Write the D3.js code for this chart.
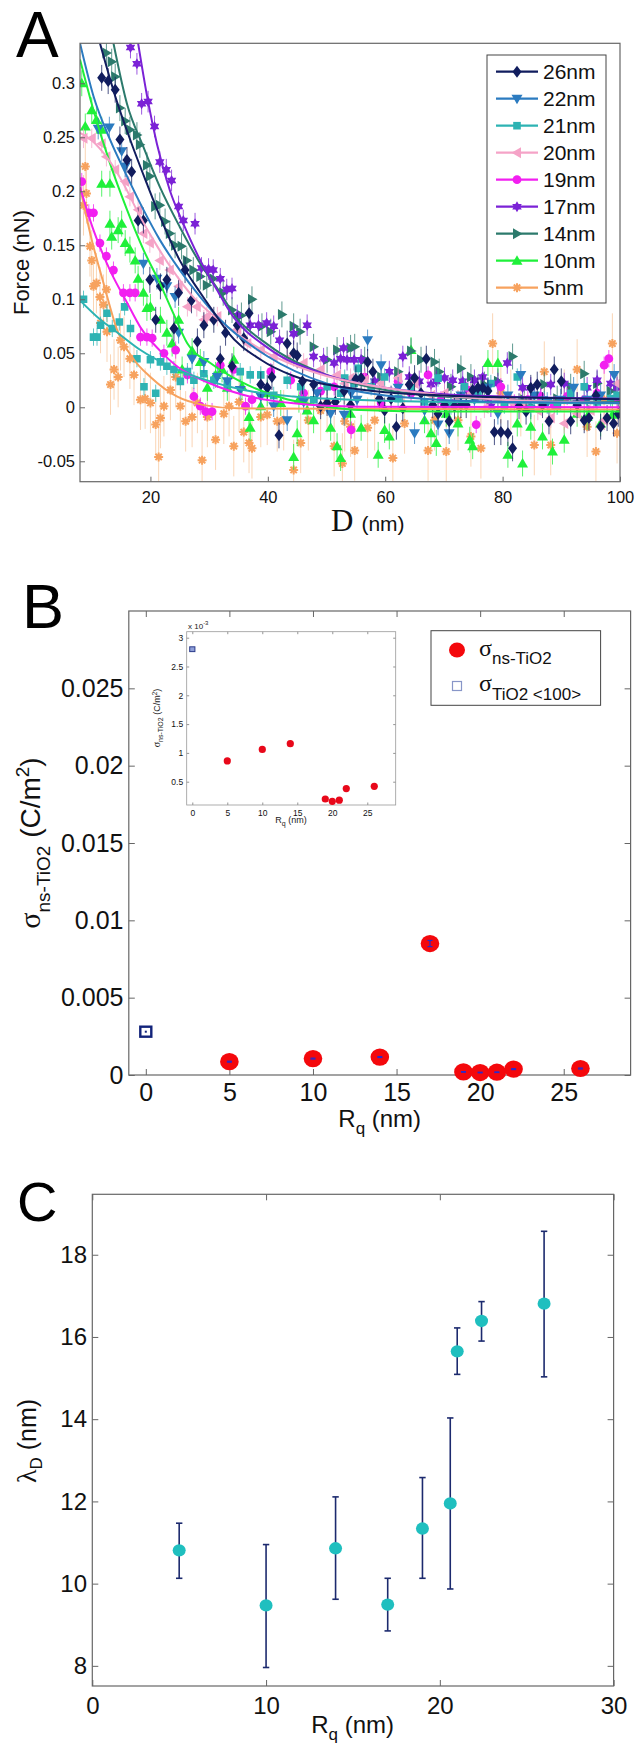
<!DOCTYPE html>
<html><head><meta charset="utf-8">
<script src="https://cdn.jsdelivr.net/npm/d3@7"></script>
<style>body{margin:0;background:#fff}svg{display:block}</style>
</head><body>
<script>
// ---------------- DATA: panel A ----------------
const seriesNames = ["26nm","22nm","21nm","20nm","19nm","17nm","14nm","10nm","5nm"];
const seriesColors = ["#111d5e","#2b7bc0","#2db3b3","#f5a3c7","#f21ff0","#7b22d6","#2c7a6c","#1ff03a","#f7a25e"];
const seriesShapes = ["diamond","triDown","square","triLeft","circle","hexagram","triRight","triUp","asterisk"];
const seriesErr = [0.012,0.01,0.008,0.009,0.008,0.01,0.012,0.012,0.028];

const pts26 = [[11.7,.305],[12.8,.302],[14,.294],[14.8,.248],[16,.229],[16.8,.218],[17.9,.173],[18.8,.173],[19.9,.118],[20.9,.081],[21.7,.112],[22.8,.118],[24,.073],[24.8,.106],[25.9,.127],[27,.099],[28,.061],[29.1,.076],[30.8,.081],[31.9,.045],[32.8,.069],[33.9,.038],[34.8,.076],[35.9,.064],[36.8,.087],[38.8,.021],[39.9,.018],[40.7,.028],[41.9,-.026],[43.3,.059],[44.4,.05],[45,.048],[45.9,.024],[47.8,.021],[49,.001],[50.1,.004],[51.5,.005],[53,.015],[54.1,.002],[55,.026],[55.9,.027],[57,.042],[57.9,.033],[59,.008],[59.9,-.003],[61,.008],[61.9,-.018],[63,-.001],[64.1,.021],[65,.027],[66.1,.013],[67,.045],[68.1,.002],[69,-.006],[70.1,.002],[70.9,-.013],[71.8,.001],[72.9,.002],[73.8,.002],[74.9,.016],[75.8,.018],[76.6,.018],[77.5,.015],[78.6,-.023],[79.7,-.023],[80.9,-.024],[81.7,-.038],[82.8,.001],[84,-.004],[84.8,.018],[85.9,.021],[86.8,.002],[87.9,-.013],[88.8,.035],[90,.024],[91.6,-.013],[92.7,.002],[93.9,-.012],[94.7,-.01],[95.9,.011],[96.7,-.018],[97.8,-.01],[98.9,-.015],[99.7,-.006]];
const pts22 = [[11.1,.258],[13,.259],[15.1,.237],[15.7,.223],[18.8,.133],[21.1,.119],[22.8,.112],[24.2,.102],[24.8,.069],[27.1,.045],[29.1,.042],[31.4,.028],[33.1,.024],[35.3,.016],[38.8,.01],[41,.001],[43.3,-.012],[46.1,.005],[48.4,.013],[50.7,-.006],[53,-.007],[54.2,.013],[55.2,.007],[57,.062],[59.3,.039],[62.2,.018],[65,-.024],[66.7,-.003],[69,-.016],[70.9,-.024],[72.9,.011],[75.2,.007],[77.5,.018],[79.2,-.006],[80.9,.011],[83.1,.03],[85.4,.011],[87.6,.004],[89.9,.007],[92.1,.018],[94.4,.007],[96.7,.011],[99,.03]];
const pts21 = [[8.6,.1],[10.3,.065],[10.9,.065],[11.5,.076],[12.6,.087],[13.5,.073],[14.7,.079],[15.6,.093],[16.6,.073],[17.7,.045],[18.9,.019],[20,.044],[20.9,.013],[21.7,.042],[22.8,.038],[24,.035],[25.1,.024],[26.3,.033],[27.4,.025],[29.1,.031],[30.8,.025],[33.1,.021],[35.3,.033],[37,.03],[38.8,.03],[41,.011],[43.3,.025],[45.6,.019],[47.8,.007],[50.1,.019],[52.4,.013],[53.1,.027],[54.7,.022],[55.4,.036],[57.6,.019],[59.9,.028],[62.2,.008],[64.4,.018],[66.7,.005],[69,.027],[71.2,.001],[73.5,.019],[75.8,.013],[78,.022],[80.3,.002],[82.5,.028],[84.8,-.001],[87.1,.007],[89.3,.001],[91.6,.013],[93.9,.019],[96.1,.005],[98.4,.008],[99.5,.011]];
const pts20 = [[8.6,.249],[10,.249],[11.7,.244],[12.5,.232],[14,.22],[15.7,.209],[16.5,.195],[17.9,.183],[18.8,.161],[19.9,.152],[21.6,.136],[23.3,.127],[24.8,.112],[26.3,.093],[27.9,.093],[29.1,.081],[29.6,.084],[31.4,.084],[34.8,.072],[36.5,.059],[38.8,.053],[41,.047],[43.3,.045],[46.1,.041],[49,.035],[51.8,.03],[53.1,.022],[54.1,.027],[56.5,.025],[59.3,.022],[62.2,.027],[65,.022],[67.8,.011],[70.1,.013],[72.4,.007],[74.6,.013],[76.9,-.001],[79.2,.007],[81.4,.005],[83.7,.004],[86,-.003],[88.2,-.01],[90.5,-.015],[92.7,-.006],[95,-.003],[97.3,-.012],[99.5,.022]];
const pts19 = [[8.3,.209],[9.5,.18],[10.3,.18],[11.4,.152],[12.5,.14],[13.7,.127],[15.4,.106],[16.5,.106],[17.4,.106],[18.3,.065],[19.4,.065],[20.3,.064],[22.3,.05],[24.3,.053],[26.3,.03],[27.4,.01],[28.5,.001],[29.4,-.004],[30.5,-.004],[31.9,.039],[34.2,.035],[36.2,.001],[37.3,.007],[40.5,.033],[43.9,.025],[46.1,.013],[49,.015],[51.3,.019],[54.2,-.021],[56.5,.028],[59.3,.004],[62.2,.024],[64.4,.013],[67.3,.03],[69.5,.007],[71.8,.004],[74.1,.016],[75.5,-.016],[77.5,.007],[79.7,.019],[82,.004],[84.3,.007],[86.5,.01],[88.8,.002],[91,.01],[93.9,.007],[96.1,.013],[97.3,.039],[98.1,.045],[99.5,.007]];
const pts17 = [[16.6,.333],[17.7,.318],[18.5,.281],[19.6,.283],[20.7,.26],[21.6,.227],[22.7,.22],[23.6,.21],[24.8,.186],[25.6,.173],[27.6,.17],[28.7,.129],[29.9,.128],[30.7,.127],[31.9,.119],[33,.109],[33.9,.11],[34.8,.085],[37,.076],[38.4,.076],[39.8,.078],[41,.075],[42,.062],[44.4,.068],[46.7,.076],[47.8,.047],[49.5,.045],[51.3,.041],[52.4,.045],[52.9,.055],[53.5,.044],[54.7,.044],[55.9,.044],[58.2,.024],[60.7,.033],[63,.047],[64.1,.028],[65.8,.024],[67.8,.021],[68.7,.024],[70.1,.027],[71.5,.025],[73.2,.024],[75.2,.025],[76.6,.028],[78,.001],[79.2,.022],[80.8,.041],[83.4,.018],[84.8,.018],[86.5,.007],[88.2,.021],[90.5,.022],[92.7,.004],[94.4,.018],[96.1,.025],[98.4,.022],[99.5,.018]];
const pts14 = [[12.5,.328],[13.4,.32],[14,.306],[14.8,.277],[15.7,.265],[16.5,.257],[17.7,.252],[18.2,.243],[19.4,.224],[19.9,.214],[20.8,.186],[21.6,.187],[22.5,.172],[23.3,.161],[24.2,.15],[25.3,.149],[26.2,.136],[27.3,.127],[28.5,.121],[29.6,.113],[30.7,.119],[32.4,.106],[33.9,.09],[35.5,.085],[37.3,.1],[39,.075],[40.5,.07],[42.4,.086],[44.4,.075],[45.5,.07],[47.8,.056],[50.1,.044],[51.8,.053],[54.1,.055],[54.8,.056],[56.5,.044],[59.3,.028],[62.2,.033],[64.4,.052],[66.1,.044],[68.4,.042],[69.2,.033],[71.2,.019],[72.9,.036],[74.6,.028],[76.9,.021],[79.2,.024],[81.7,.047],[83.7,.007],[84.8,.001],[87.1,.021],[89.3,.008],[91.6,.019],[93.9,.031],[96.1,.022],[98.4,.015],[99.5,.018]];
const pts10 = [[8.3,.3],[8.9,.26],[10,.275],[10.8,.266],[11.7,.257],[11.7,.207],[13.1,.207],[13.1,.17],[13.4,.158],[14.5,.164],[15.1,.17],[15.7,.152],[16.5,.146],[17.4,.136],[17.9,.119],[18.8,.106],[19.4,.092],[20,.093],[21.7,.081],[22.8,.069],[23.7,.059],[24.8,.081],[25.4,.035],[27.1,.052],[28.5,.042],[29.7,.018],[31.1,.03],[32.2,.035],[33.1,.018],[34.2,.044],[35.6,.019],[36.8,-.009],[37,-.019],[38.8,.001],[39.9,.013],[42.2,.004],[44.4,-.046],[45,-.024],[45.3,.007],[46.7,-.003],[47.8,-.012],[50.7,-.019],[51.8,-.036],[52.4,-.047],[54.1,-.006],[55.9,-.019],[58.8,-.044],[59.9,-.021],[60.7,-.027],[64.4,.053],[66.7,-.012],[67.8,-.024],[68.7,-.033],[70.4,-.006],[72.4,-.015],[74.4,-.03],[74.9,-.036],[77.5,.041],[79.2,.041],[80.9,-.044],[82.5,-.015],[83.4,-.052],[84.8,-.018],[86.8,-.027],[88.5,-.041],[90.5,-.03],[92.7,-.006],[94.4,-.009],[96.7,-.015],[98.7,-.007]];
const pts5 = [[8.6,.187],[8.9,.223],[9.1,.198],[9.7,.149],[10,.136],[10.3,.112],[10.8,.115],[11.4,.102],[11.5,.078],[12,.095],[12.5,.109],[12.6,.07],[13.2,.021],[13.8,.035],[14.5,.028],[14.9,.062],[15.5,.056],[16.5,.045],[17.2,.03],[18.3,.007],[19.1,.008],[20,.004],[20.9,-.016],[21.4,-.046],[21.7,-.01],[22.3,.001],[23.4,.016],[24.3,.028],[25.1,.001],[26,-.013],[27.1,-.009],[28,.004],[28.8,-.049],[29.7,-.009],[31.1,-.03],[32.5,-.006],[33.4,.001],[34.2,-.036],[35.1,.005],[35.9,-.023],[36.8,-.033],[37.3,-.038],[38.8,-.009],[39.9,-.007],[41.6,-.013],[42.7,-.012],[44.4,-.058],[45.6,-.033],[46.9,-.012],[49,-.003],[50.1,.004],[51.3,-.036],[52.7,-.052],[53.1,-.013],[54.1,-.018],[54.8,-.04],[57,-.019],[58.2,-.012],[61.3,-.047],[63.3,-.015],[67.3,-.04],[68.4,-.012],[70.4,-.041],[72.4,-.012],[74.6,-.027],[76.3,-.038],[78.3,.059],[79.7,.013],[81.4,.007],[83.1,.001],[85.4,-.035],[87.1,.033],[88.2,-.035],[90.5,.007],[92.7,.035],[94.4,-.018],[95.9,-.041],[97.3,.007],[98.7,.059],[99.5,-.024]];

const fit26 = [[11.4,.337],[14,.288],[16.8,.244],[19.4,.207],[21.6,.177],[25,.136],[28.5,.106],[31.3,.084],[33.1,.070],[38.8,.044],[44.4,.029],[50,.021],[55,.017],[60,.014],[70,.011],[80,.0093],[100,.0074]];
const fit22 = [[8,.337],[10.3,.288],[13.1,.248],[16,.214],[18.8,.183],[21.6,.155],[25,.127],[28.5,.102],[31.9,.081],[40,.047],[50,.022],[60,.011],[80,.005],[100,.004]];
const fit21 = [[8,.099],[11.5,.081],[13.8,.0716],[18.3,.053],[23.4,.0377],[30.2,.024],[35.9,.016],[44.4,.0099],[55.8,.0068],[70,.005],[100,.0037]];
const fit20 = [[8,.254],[10,.247],[12.5,.232],[15.4,.207],[18.2,.177],[20.5,.155],[23.9,.126],[27.3,.102],[30.7,.085],[35,.067],[40,.05],[45,.038],[50,.029],[60,.018],[70,.011],[80,.007],[100,.004]];
const fit19 = [[8,.204],[10.3,.164],[13.1,.127],[16,.097],[18.3,.074],[21.7,.052],[24.5,.038],[30.2,.022],[35.9,.0114],[44.4,.0037],[55.8,.0006],[100,0]];
const fit17 = [[17.9,.337],[19.6,.283],[21.1,.244],[23.3,.201],[25.6,.170],[28.5,.136],[31.3,.109],[34.1,.084],[40,.055],[50,.03],[60,.018],[70,.012],[80,.01],[100,.008]];
const fit14 = [[13.7,.337],[16,.281],[18.8,.241],[21.6,.204],[25,.167],[28.5,.133],[31.9,.106],[34.1,.087],[40,.058],[50,.03],[60,.016],[80,.007],[100,.005]];
const fit10 = [[8,.322],[10.3,.275],[13.1,.226],[16,.183],[18.8,.146],[21.6,.115],[23.9,.087],[26.3,.059],[30.2,.041],[35.3,.024],[41.6,.01],[50.1,.0006],[55.8,-.0025],[70,-.004],[100,-.004]];
const fit5 = [[8,.204],[10,.155],[12,.115],[14.3,.072],[17.2,.044],[20,.028],[24.5,.01],[29.1,.002],[35,-.001],[100,-.002]];

const seriesPoints = [pts26,pts22,pts21,pts20,pts19,pts17,pts14,pts10,pts5];
const seriesFits = [fit26,fit22,fit21,fit20,fit19,fit17,fit14,fit10,fit5];

const xTicksA = [20,40,60,80,100];
const yTicksA = [-0.05,0,0.05,0.1,0.15,0.2,0.25,0.3];
const yTickLabelsA = ["-0.05","0","0.05","0.1","0.15","0.2","0.25","0.3"];

// ---------------- DATA: panel B ----------------
const rqB = [5,10,14,17,19,20,21,22,26];
const sigmaB = [0.00086,0.00106,0.00116,0.0085,0.0002,0.00016,0.00018,0.00038,0.00042];
const sigmaErrB = [0.00003,0.00003,0.00003,0.0002,0.00002,0.00002,0.00002,0.00003,0.00003];
const rqTiO2 = [0];
const sigmaTiO2 = [0.0028];
const xTicksB = [0,5,10,15,20,25];
const yTicksB = [0,0.005,0.01,0.015,0.02,0.025];
const yTickLabelsB = ["0","0.005","0.01","0.015","0.02","0.025"];
const yTicksInset = [0.5,1,1.5,2,2.5,3];
const yTickLabelsInset = ["0.5","1","1.5","2","2.5","3"];

// ---------------- DATA: panel C ----------------
const rqC = [5.0,10.0,14.0,17.0,19.0,20.6,21.0,22.4,26.0];
const lambdaC = [10.81,9.47,10.86,9.49,11.34,11.95,15.65,16.39,16.81];
const lambdaLo = [10.13,7.96,9.62,8.85,10.13,9.87,15.09,15.90,15.03];
const lambdaHi = [11.47,10.95,12.11,10.13,12.58,14.03,16.22,16.86,18.57];
const xTicksC = [0,10,20,30];
const yTicksC = [8,10,12,14,16,18];

// ---------------- DRAW ----------------
const SANS = "'Liberation Sans', Arial, sans-serif";
const SERIF = "'Liberation Serif', 'Times New Roman', serif";
const AX = "#666";
const svg = d3.select("body").append("svg").attr("width",635).attr("height",1750);
svg.append("rect").attr("width",635).attr("height",1750).attr("fill","#fff");

function frame(sel, x, y, o){
  const [x0,x1]=x.range(), [y0,y1]=y.range();
  const g = sel.append("g");
  const style = a => a.attr("font-family",SANS).attr("font-size",o.fs)
    .call(s=>s.select(".domain").remove())
    .call(s=>s.selectAll(".tick line").attr("stroke",AX).attr("stroke-width",o.tw||1))
    .call(s=>s.selectAll(".tick text").attr("fill","#111"));
  g.append("g").attr("transform",`translate(0,${y0})`)
    .call(d3.axisBottom(x).tickValues(o.xt).tickSize(-o.tick).tickPadding(o.xPad).tickFormat(o.xfmt)).call(style);
  if(o.mirror!==false){
    g.append("g").attr("transform",`translate(0,${y1})`)
      .call(d3.axisTop(x).tickValues(o.xt).tickSize(-o.tick).tickFormat("")).call(style);
    g.append("g").attr("transform",`translate(${x1},0)`)
      .call(d3.axisRight(y).tickValues(o.yt).tickSize(-o.tick).tickFormat("")).call(style);
  }
  g.append("g").attr("transform",`translate(${x0},0)`)
    .call(d3.axisLeft(y).tickValues(o.yt).tickSize(-o.tick).tickPadding(o.yPad).tickFormat(o.yfmt)).call(style);
  g.append("rect").attr("x",x0).attr("y",y1).attr("width",x1-x0).attr("height",y0-y1)
    .attr("fill","none").attr("stroke",o.bc||AX).attr("stroke-width",o.bw||1.2);
  return g;
}

function shapePath(s){
  switch(s){
    case "diamond": return "M0,-6L4.5,0L0,6L-4.5,0Z";
    case "triDown": return "M-5.5,-4L5.5,-4L0,5.5Z";
    case "square": return "M-3.8,-3.8H3.8V3.8H-3.8Z";
    case "triLeft": return "M-5.5,0L4,-5.5L4,5.5Z";
    case "circle": return d3.symbol(d3.symbolCircle,60)();
    case "hexagram": return "M0,-5.5L4.76,2.75L-4.76,2.75Z M0,5.5L-4.76,-2.75L4.76,-2.75Z";
    case "triRight": return "M5.5,0L-4,-5.5L-4,5.5Z";
    case "triUp": return "M0,-5.5L5.5,4L-5.5,4Z";
    case "asterisk": return "M-4.5,0H4.5M0,-4.5V4.5M-3.2,-3.2L3.2,3.2M-3.2,3.2L3.2,-3.2";
  }
}
function drawMarker(sel, shape, color){
  const p = sel.append("path").attr("d",shapePath(shape));
  if(shape==="asterisk") p.attr("fill","none").attr("stroke",color).attr("stroke-width",2);
  else p.attr("fill",color);
  return p;
}

// ===== Panel A =====
const xA = d3.scaleLinear().domain([8,100]).range([80,620]);
const yA = d3.scaleLinear().domain([-0.0689,0.337]).range([481.7,43.3]);
svg.append("clipPath").attr("id","clipA").append("rect").attr("x",80).attr("y",43.3).attr("width",540).attr("height",438.4);
const gA = svg.append("g").attr("clip-path","url(#clipA)");
const order = d3.range(seriesNames.length).reverse();
order.forEach(i=>{
  const g = gA.append("g");
  const c = seriesColors[i], e = seriesErr[i];
  g.selectAll("line.eb").data(seriesPoints[i]).join("line")
    .attr("x1",d=>xA(d[0])).attr("x2",d=>xA(d[0]))
    .attr("y1",d=>yA(d[1]-e)).attr("y2",d=>yA(d[1]+e))
    .attr("stroke", i===8 ? "#f9c79c" : c).attr("stroke-width",1).attr("opacity",0.75);
  seriesPoints[i].forEach(d=>{
    const m = g.append("g").attr("transform",`translate(${xA(d[0])},${yA(d[1])})`);
    drawMarker(m, seriesShapes[i], c);
  });
});
const lineA = d3.line().x(d=>xA(d[0])).y(d=>yA(d[1])).curve(d3.curveMonotoneX);
order.forEach(i=>{
  gA.append("path").attr("d",lineA(seriesFits[i])).attr("fill","none")
    .attr("stroke",seriesColors[i]).attr("stroke-width",2);
});
frame(svg, xA, yA, {xt:xTicksA, yt:yTicksA, xfmt:d3.format("d"), yfmt:(d,i)=>yTickLabelsA[i],
  fs:16.5, xPad:9.5, yPad:5, tick:5, mirror:false});
// legend A
const legA = svg.append("g");
legA.append("rect").attr("x",487).attr("y",55).attr("width",119).attr("height",248)
  .attr("fill","#fff").attr("stroke","#444").attr("stroke-width",1);
seriesNames.forEach((n,i)=>{
  const cy = 71.7 + i*27;
  legA.append("line").attr("x1",496).attr("x2",538).attr("y1",cy).attr("y2",cy)
    .attr("stroke",seriesColors[i]).attr("stroke-width",2.2);
  const m = legA.append("g").attr("transform",`translate(517,${cy})`);
  drawMarker(m, seriesShapes[i], seriesColors[i]);
  legA.append("text").attr("x",543).attr("y",cy+7.5).attr("font-family",SANS).attr("font-size",21)
    .attr("fill","#111").text(n);
});
svg.append("text").attr("x",16).attr("y",57).attr("font-family",SANS).attr("font-size",64).text("A");
svg.append("text").attr("transform","translate(29,262.5) rotate(-90)").attr("text-anchor","middle")
  .attr("font-family",SANS).attr("font-size",22).attr("fill","#111").text("Force (nN)");
const dl = svg.append("text").attr("x",331).attr("y",531).attr("fill","#111");
dl.append("tspan").attr("font-family",SERIF).attr("font-size",31).text("D");
dl.append("tspan").attr("font-family",SANS).attr("font-size",21).attr("dx",8).text("(nm)");

// ===== Panel B =====
const xB = d3.scaleLinear().domain([-1.017,29]).range([128.8,630.6]);
const yB = d3.scaleLinear().domain([0,0.030]).range([1075,611]);
frame(svg, xB, yB, {xt:xTicksB, yt:yTicksB, xfmt:d3.format("d"), yfmt:(d,i)=>yTickLabelsB[i],
  fs:25, xPad:8, yPad:5.3, tick:6});
const gB = svg.append("g");
rqB.forEach((r,i)=>{
  const cx = xB(r), cy = yB(sigmaB[i]);
  gB.append("ellipse").attr("cx",cx).attr("cy",cy).attr("rx",9.3).attr("ry",8.6).attr("fill","#f4080c");
  const y1 = yB(sigmaB[i]+sigmaErrB[i]), y2 = yB(sigmaB[i]-sigmaErrB[i]);
  gB.append("line").attr("x1",cx).attr("x2",cx).attr("y1",y1).attr("y2",y2).attr("stroke","#2a2acc").attr("stroke-width",1.2);
  [y1,y2].forEach(yy=>gB.append("line").attr("x1",cx-2.5).attr("x2",cx+2.5).attr("y1",yy).attr("y2",yy).attr("stroke","#2a2acc").attr("stroke-width",1.2));
});
rqTiO2.forEach((r,i)=>{
  const cx = xB(r), cy = yB(sigmaTiO2[i]);
  gB.append("rect").attr("x",cx-5.5).attr("y",cy-5).attr("width",11).attr("height",10)
    .attr("fill","#fff").attr("stroke","#12237a").attr("stroke-width",2.4);
  gB.append("rect").attr("x",cx-1).attr("y",cy-1).attr("width",2).attr("height",2).attr("fill","#12237a");
});
// legend B
const legB = svg.append("g");
legB.append("rect").attr("x",431).attr("y",630.7).attr("width",169.6).attr("height",74.6)
  .attr("fill","#fff").attr("stroke","#444").attr("stroke-width",1);
legB.append("ellipse").attr("cx",457).attr("cy",650).attr("rx",8).attr("ry",7.5).attr("fill","#f4080c");
legB.append("rect").attr("x",452.5).attr("y",681.5).attr("width",9).attr("height",9)
  .attr("fill","#fff").attr("stroke","#8896c8").attr("stroke-width",1.2);
const lt1 = legB.append("text").attr("x",479).attr("y",656).attr("fill","#111");
lt1.append("tspan").attr("font-family",SERIF).attr("font-size",24).text("σ");
lt1.append("tspan").attr("font-family",SANS).attr("font-size",17).attr("dy",8).text("ns-TiO2");
const lt2 = legB.append("text").attr("x",479).attr("y",691).attr("fill","#111");
lt2.append("tspan").attr("font-family",SERIF).attr("font-size",24).text("σ");
lt2.append("tspan").attr("font-family",SANS).attr("font-size",17).attr("dy",9).text("TiO2 <100>");
svg.append("text").attr("x",22).attr("y",628).attr("font-family",SANS).attr("font-size",63).text("B");
const byl = svg.append("text").attr("transform","translate(40,843) rotate(-90)").attr("text-anchor","middle").attr("fill","#111");
byl.append("tspan").attr("font-family",SERIF).attr("font-size",30).text("σ");
byl.append("tspan").attr("font-family",SANS).attr("font-size",19).attr("dy",10).text("ns-TiO2");
byl.append("tspan").attr("font-family",SANS).attr("font-size",28).attr("dy",-10).text(" (C/m");
byl.append("tspan").attr("font-family",SANS).attr("font-size",19).attr("dy",-11).text("2");
byl.append("tspan").attr("font-family",SANS).attr("font-size",28).attr("dy",11).text(")");
const bxl = svg.append("text").attr("x",379.7).attr("y",1127).attr("text-anchor","middle").attr("fill","#111").attr("font-family",SANS);
bxl.append("tspan").attr("font-size",24).text("R");
bxl.append("tspan").attr("font-size",17).attr("dy",7).text("q");
bxl.append("tspan").attr("font-size",24).attr("dy",-7).text(" (nm)");

// Inset
const xI = d3.scaleLinear().domain([-0.8,29.06]).range([186.7,395.7]);
const yI = d3.scaleLinear().domain([0.0955,3.104]).range([805,631.7]);
svg.append("rect").attr("x",186.7).attr("y",631.7).attr("width",209).attr("height",173.3).attr("fill","#fff");
frame(svg, xI, yI, {xt:xTicksB, yt:yTicksInset, xfmt:d3.format("d"), yfmt:(d,i)=>yTickLabelsInset[i],
  fs:8.5, xPad:4.5, yPad:3.5, tick:2.5, tw:0.7, bc:"#999", bw:0.8});
const gI = svg.append("g");
rqB.forEach((r,i)=>{
  const v = sigmaB[i]*1000;
  if(v > yI.domain()[1]) return;
  gI.append("circle").attr("cx",xI(r)).attr("cy",yI(v)).attr("r",3.6).attr("fill","#e8081a");
});
rqTiO2.forEach((r,i)=>{
  const cx = xI(r), cy = yI(sigmaTiO2[i]*1000);
  gI.append("rect").attr("x",cx-2.6).attr("y",cy-2.4).attr("width",5.2).attr("height",4.8)
    .attr("fill","#8fa0d8").attr("stroke","#2a3a8a").attr("stroke-width",1);
});
const xt10 = svg.append("text").attr("x",188).attr("y",628.5).attr("font-family",SANS).attr("font-size",8).attr("fill","#222");
xt10.append("tspan").text("x 10");
xt10.append("tspan").attr("font-size",6).attr("dy",-3.5).text("-3");
const ixl = svg.append("text").attr("x",291).attr("y",823).attr("text-anchor","middle").attr("fill","#222").attr("font-family",SANS);
ixl.append("tspan").attr("font-size",9).text("R");
ixl.append("tspan").attr("font-size",7).attr("dy",3).text("q");
ixl.append("tspan").attr("font-size",9).attr("dy",-3).text(" (nm)");
const iyl = svg.append("text").attr("transform","translate(160,718) rotate(-90)").attr("text-anchor","middle").attr("fill","#222");
iyl.append("tspan").attr("font-family",SERIF).attr("font-size",10).text("σ");
iyl.append("tspan").attr("font-family",SANS).attr("font-size",7).attr("dy",3).text("ns-TiO2");
iyl.append("tspan").attr("font-family",SANS).attr("font-size",9).attr("dy",-3).text(" (C/m");
iyl.append("tspan").attr("font-family",SANS).attr("font-size",6.5).attr("dy",-3.5).text("2");
iyl.append("tspan").attr("font-family",SANS).attr("font-size",9).attr("dy",3.5).text(")");

// ===== Panel C =====
const xC = d3.scaleLinear().domain([0,30]).range([92.3,613.6]);
const yC = d3.scaleLinear().domain([7.51,19.47]).range([1686,1194.3]);
frame(svg, xC, yC, {xt:xTicksC, yt:yTicksC, xfmt:d3.format("d"), yfmt:d3.format("d"),
  fs:24, xPad:11, yPad:5.3, tick:6});
const gC = svg.append("g");
rqC.forEach((r,i)=>{
  const cx = xC(r);
  gC.append("line").attr("x1",cx).attr("x2",cx).attr("y1",yC(lambdaLo[i])).attr("y2",yC(lambdaHi[i]))
    .attr("stroke","#1c2a6e").attr("stroke-width",1.6);
  [lambdaLo[i],lambdaHi[i]].forEach(v=>gC.append("line").attr("x1",cx-3.2).attr("x2",cx+3.2)
    .attr("y1",yC(v)).attr("y2",yC(v)).attr("stroke","#1c2a6e").attr("stroke-width",1.6));
});
rqC.forEach((r,i)=>{
  gC.append("ellipse").attr("cx",xC(r)).attr("cy",yC(lambdaC[i])).attr("rx",6.5).attr("ry",6.2).attr("fill","#1fbfbf");
});
svg.append("text").attr("x",17).attr("y",1221).attr("font-family",SANS).attr("font-size",56).text("C");
const cyl = svg.append("text").attr("transform","translate(36,1441) rotate(-90)").attr("text-anchor","middle").attr("fill","#111");
cyl.append("tspan").attr("font-family",SERIF).attr("font-size",28).text("λ");
cyl.append("tspan").attr("font-family",SANS).attr("font-size",17).attr("dy",6).text("D");
cyl.append("tspan").attr("font-family",SANS).attr("font-size",25).attr("dy",-6).text(" (nm)");
const cxl = svg.append("text").attr("x",352.6).attr("y",1733).attr("text-anchor","middle").attr("fill","#111").attr("font-family",SANS);
cxl.append("tspan").attr("font-size",24).text("R");
cxl.append("tspan").attr("font-size",17).attr("dy",7).text("q");
cxl.append("tspan").attr("font-size",24).attr("dy",-7).text(" (nm)");
</script>
</body></html>
